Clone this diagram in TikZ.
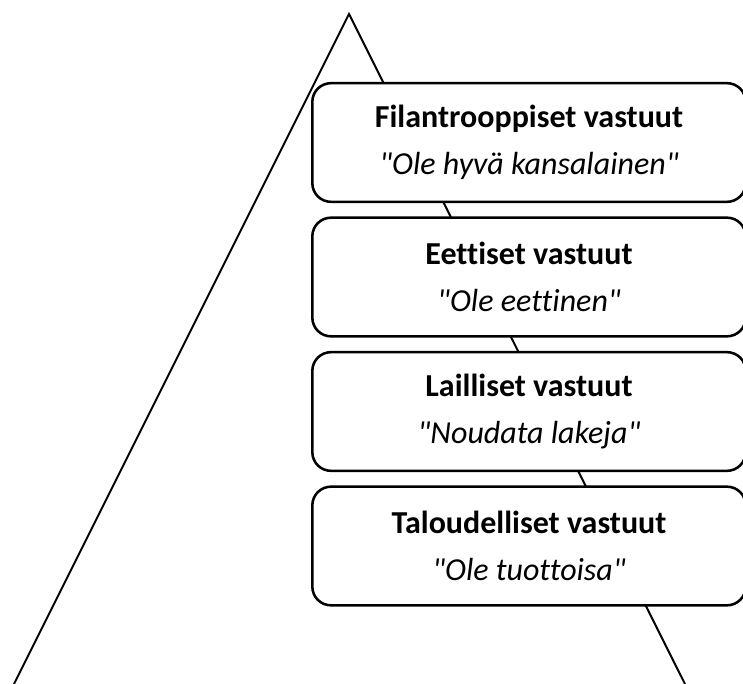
\documentclass[tikz,border=0pt]{standalone}
\usepackage{fontspec}
\setmainfont{Carlito}[Ligatures={TeXOff,CommonOff}]
\begin{document}
\begin{tikzpicture}[x=0.75pt,y=-0.75pt,
  tri/.style={line width=1.5pt},
  level/.style={draw, line width=1.9pt, rounded corners=14pt, fill=white,
    minimum width=325pt, minimum height=89pt, inner sep=0pt, align=center,
    font=\fontsize{24}{35}\selectfont}]
\useasboundingbox (0,0) rectangle (743,684);
\clip (0,0) rectangle (743,684);
\coordinate (apex) at (349,14);
\coordinate (bl) at (14,684);
\coordinate (br) at (685,684);
\draw[tri] (bl) -- (apex) -- (br);
\node[level] (f) at (529,142.5) {\textbf{Filantrooppiset vastuut}\\\textit{"Ole hyvä kansalainen"}};
\node[level] (e) at (529,277) {\textbf{Eettiset vastuut}\\\textit{"Ole eettinen"}};
\node[level] (l) at (529,411.5) {\textbf{Lailliset vastuut}\\\textit{"Noudata lakeja"}};
\node[level] (t) at (529,546) {\textbf{Taloudelliset vastuut}\\\textit{"Ole tuottoisa"}};
\end{tikzpicture}
\end{document}
